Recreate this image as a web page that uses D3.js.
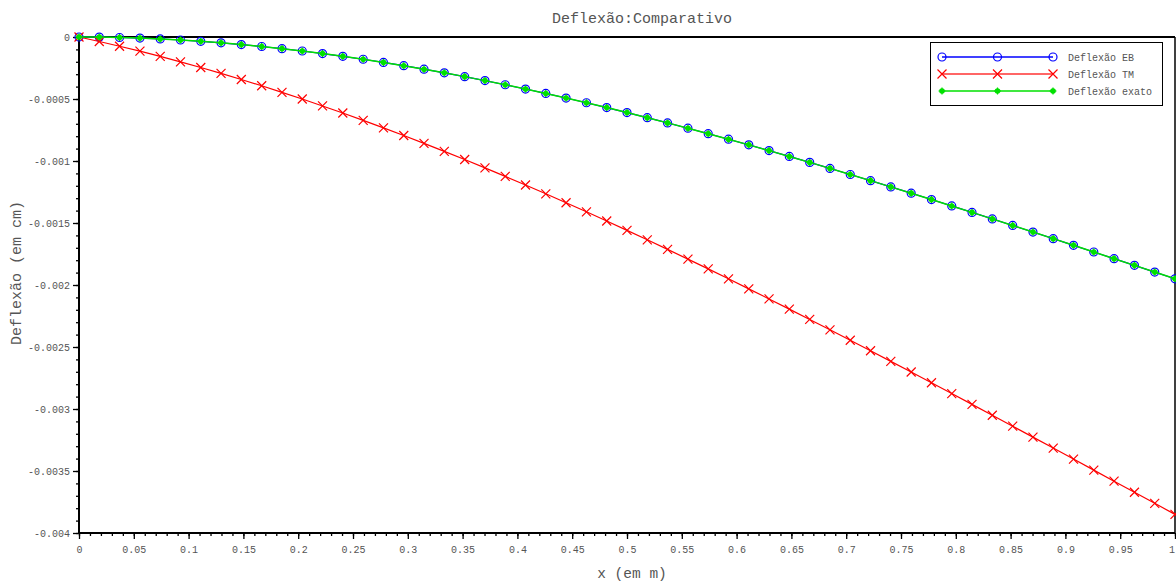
<!DOCTYPE html>
<html>
<head>
<meta charset="utf-8">
<script src="https://cdn.jsdelivr.net/npm/d3@7"></script>
<style>
  html, body { margin: 0; padding: 0; background: #fff; }
  svg { display: block; }
  text { font-family: "Liberation Mono", "DejaVu Sans Mono", monospace; fill: #555; }
</style>
</head>
<body>
<svg id="chart" width="1176" height="581"></svg>
<script>
// Beam position along the span (m)
const xPos = [0, 0.0185, 0.0370, 0.0556, 0.0741, 0.0926, 0.1111, 0.1296, 0.1481, 0.1667,
  0.1852, 0.2037, 0.2222, 0.2407, 0.2593, 0.2778, 0.2963, 0.3148, 0.3333, 0.3519,
  0.3704, 0.3889, 0.4074, 0.4259, 0.4444, 0.4630, 0.4815, 0.5, 0.5185, 0.5370,
  0.5556, 0.5741, 0.5926, 0.6111, 0.6296, 0.6481, 0.6667, 0.6852, 0.7037, 0.7222,
  0.7407, 0.7593, 0.7778, 0.7963, 0.8148, 0.8333, 0.8519, 0.8704, 0.8889, 0.9074,
  0.9259, 0.9444, 0.9630, 0.9815, 1];

// Euler-Bernoulli deflection
const deflEB = [0, -0.0000010, -0.0000040, -0.0000089, -0.0000157, -0.0000243, -0.0000348, -0.0000470, -0.0000610, -0.0000767,
  -0.0000941, -0.0001131, -0.0001337, -0.0001559, -0.0001796, -0.0002048, -0.0002314, -0.0002595, -0.0002889, -0.0003196,
  -0.0003517, -0.0003850, -0.0004196, -0.0004553, -0.0004922, -0.0005302, -0.0005693, -0.0006094, -0.0006505, -0.0006926,
  -0.0007356, -0.0007795, -0.0008243, -0.0008698, -0.0009162, -0.0009633, -0.0010111, -0.0010596, -0.0011087, -0.0011584,
  -0.0012087, -0.0012594, -0.0013107, -0.0013624, -0.0014145, -0.0014670, -0.0015198, -0.0015730, -0.0016263, -0.0016799,
  -0.0017337, -0.0017877, -0.0018417, -0.0018958, -0.0019500];

// Timoshenko deflection
const deflTM = [0, -0.0000362, -0.0000743, -0.0001144, -0.0001564, -0.0002002, -0.0002459, -0.0002933, -0.0003425, -0.0003934,
  -0.0004460, -0.0005002, -0.0005560, -0.0006133, -0.0006722, -0.0007326, -0.0007944, -0.0008576, -0.0009222, -0.0009882,
  -0.0010554, -0.0011239, -0.0011936, -0.0012646, -0.0013366, -0.0014098, -0.0014841, -0.0015594, -0.0016357, -0.0017130,
  -0.0017912, -0.0018702, -0.0019502, -0.0020310, -0.0021125, -0.0021948, -0.0022778, -0.0023614, -0.0024457, -0.0025306,
  -0.0026161, -0.0027020, -0.0027885, -0.0028754, -0.0029627, -0.0030503, -0.0031384, -0.0032267, -0.0033152, -0.0034040,
  -0.0034930, -0.0035821, -0.0036713, -0.0037607, -0.0038500];

// Exact solution
const deflExact = [0, -0.0000010, -0.0000040, -0.0000089, -0.0000157, -0.0000243, -0.0000348, -0.0000470, -0.0000610, -0.0000767,
  -0.0000941, -0.0001131, -0.0001337, -0.0001559, -0.0001796, -0.0002048, -0.0002314, -0.0002595, -0.0002889, -0.0003196,
  -0.0003517, -0.0003850, -0.0004196, -0.0004553, -0.0004922, -0.0005302, -0.0005693, -0.0006094, -0.0006505, -0.0006926,
  -0.0007356, -0.0007795, -0.0008243, -0.0008698, -0.0009162, -0.0009633, -0.0010111, -0.0010596, -0.0011087, -0.0011584,
  -0.0012087, -0.0012594, -0.0013107, -0.0013624, -0.0014145, -0.0014670, -0.0015198, -0.0015730, -0.0016263, -0.0016799,
  -0.0017337, -0.0017877, -0.0018417, -0.0018958, -0.0019500];

const xTicks = [0, 0.05, 0.1, 0.15, 0.2, 0.25, 0.3, 0.35, 0.4, 0.45, 0.5, 0.55, 0.6, 0.65, 0.7, 0.75, 0.8, 0.85, 0.9, 0.95, 1];
const xTickLabels = ["0", "0.05", "0.1", "0.15", "0.2", "0.25", "0.3", "0.35", "0.4", "0.45", "0.5", "0.55", "0.6", "0.65", "0.7", "0.75", "0.8", "0.85", "0.9", "0.95", "1"];
const yTicks = [0, -0.0005, -0.001, -0.0015, -0.002, -0.0025, -0.003, -0.0035, -0.004];
const yTickLabels = ["0", "-0.0005", "-0.001", "-0.0015", "-0.002", "-0.0025", "-0.003", "-0.0035", "-0.004"];

const seriesNames = ["Deflexão EB", "Deflexão TM", "Deflexão exato"];

const svg = d3.select("#chart");
const L = 79, R = 1175, T = 37, B = 533;

const x = d3.scaleLinear().domain([0, 1]).range([L, R]);
const y = d3.scaleLinear().domain([0, -0.004]).range([T, B]);

// Minor ticks
const xMinor = d3.range(0, 101).map(i => i / 100);
const yMinor = d3.range(0, 41).map(i => -i / 10000);

const g = svg.append("g");

// Bottom axis
const xAxis = d3.axisBottom(x).tickValues(xTicks).tickSize(6).tickPadding(7)
  .tickFormat((d, i) => xTickLabels[i]);
const xMin = d3.axisBottom(x).tickValues(xMinor).tickSize(3).tickFormat("");
g.append("g").attr("transform", `translate(0,${B})`).call(xMin)
  .call(s => s.select(".domain").remove());
const xa = g.append("g").attr("transform", `translate(0,${B})`).call(xAxis);
xa.select(".domain").remove();
// keep the last label inside the canvas
xa.selectAll(".tick text").filter((d, i) => i === xTicks.length - 1)
  .attr("text-anchor", "end").attr("dx", "-0.5");

// Left axis
const yAxis = d3.axisLeft(y).tickValues(yTicks).tickSize(6).tickPadding(3)
  .tickFormat((d, i) => yTickLabels[i]);
const yMin = d3.axisLeft(y).tickValues(yMinor).tickSize(3).tickFormat("");
g.append("g").attr("transform", `translate(${L},0)`).call(yMin)
  .call(s => s.select(".domain").remove());
const ya = g.append("g").attr("transform", `translate(${L},0)`).call(yAxis);
ya.select(".domain").remove();

svg.selectAll(".tick line").attr("stroke", "#000").attr("stroke-width", 1.3);
svg.selectAll(".tick text")
  .style("font-family", '"Liberation Mono", monospace')
  .style("font-size", "10px").attr("fill", "#666");

// Frame
g.append("line").attr("x1", L).attr("x2", R).attr("y1", T).attr("y2", T).attr("stroke", "#000").attr("stroke-width", 2);
g.append("line").attr("x1", L).attr("x2", R).attr("y1", B).attr("y2", B).attr("stroke", "#000").attr("stroke-width", 2);
g.append("line").attr("x1", L).attr("x2", L).attr("y1", T).attr("y2", B).attr("stroke", "#000").attr("stroke-width", 2);
g.append("line").attr("x1", R).attr("x2", R).attr("y1", T).attr("y2", B).attr("stroke", "#000").attr("stroke-width", 1.5);

// Data
const plot = svg.append("g");
const line = d3.line().x(d => x(d[0])).y(d => y(d[1]));
const eb = xPos.map((v, i) => [v, deflEB[i]]);
const tm = xPos.map((v, i) => [v, deflTM[i]]);
const ex = xPos.map((v, i) => [v, deflExact[i]]);

function circleMark(sel, cx, cy) {
  sel.append("circle").attr("cx", cx).attr("cy", cy).attr("r", 4)
    .attr("fill", "none").attr("stroke", "#0000ff").attr("stroke-width", 1.2);
}
function crossMark(sel, cx, cy) {
  const s = 4.5;
  sel.append("path").attr("d", `M${cx - s},${cy - s}L${cx + s},${cy + s}M${cx - s},${cy + s}L${cx + s},${cy - s}`)
    .attr("stroke", "#ff0000").attr("stroke-width", 1.2).attr("fill", "none");
}
function starMark(sel, cx, cy) {
  sel.append("circle").attr("cx", cx).attr("cy", cy).attr("r", 2.8).attr("fill", "#00e000").attr("stroke", "none");
  sel.append("path").attr("d", `M${cx - 3.5},${cy}L${cx + 3.5},${cy}M${cx},${cy - 3.5}L${cx},${cy + 3.5}`)
    .attr("stroke", "#00e000").attr("stroke-width", 1.2);
}

svg.append("clipPath").attr("id", "pclip").append("rect")
  .attr("x", L - 6).attr("y", T - 6).attr("width", R - L + 7).attr("height", B - T + 12);
const pg = plot.attr("clip-path", "url(#pclip)");

pg.append("path").datum(eb).attr("d", line).attr("fill", "none").attr("stroke", "#0000ff").attr("stroke-width", 1.2);
eb.forEach(d => circleMark(pg, x(d[0]), y(d[1])));
pg.append("path").datum(tm).attr("d", line).attr("fill", "none").attr("stroke", "#ff0000").attr("stroke-width", 1.2);
tm.forEach(d => crossMark(pg, x(d[0]), y(d[1])));
pg.append("path").datum(ex).attr("d", line).attr("fill", "none").attr("stroke", "#00e000").attr("stroke-width", 1.5);
ex.forEach(d => starMark(pg, x(d[0]), y(d[1])));

// Legend
const lg = svg.append("g");
lg.append("rect").attr("x", 930.5).attr("y", 42.5).attr("width", 232).attr("height", 63)
  .attr("fill", "#fff").attr("stroke", "#000").attr("stroke-width", 1);
const legendColors = ["#0000ff", "#ff0000", "#00e000"];
const legendMarks = [circleMark, crossMark, starMark];
seriesNames.forEach((name, i) => {
  const yy = 57 + i * 17;
  lg.append("line").attr("x1", 942).attr("x2", 1053).attr("y1", yy).attr("y2", yy)
    .attr("stroke", i === 1 ? "#ff6666" : legendColors[i]).attr("stroke-width", i === 1 ? 2 : 1.3);
  [942, 997.5, 1053].forEach(px => legendMarks[i](lg, px, yy));
  lg.append("text").attr("x", 1068).attr("y", yy + 3.5).style("font-size", "10px").text(name);
});

// Titles
svg.append("text").attr("x", 642).attr("y", 23).attr("text-anchor", "middle")
  .style("font-size", "15px").text("Deflexão:Comparativo");
svg.append("text").attr("x", 632).attr("y", 578).attr("text-anchor", "middle")
  .style("font-size", "14.5px").text("x (em m)");
svg.append("text").attr("transform", "translate(21,273) rotate(-90)").attr("text-anchor", "middle")
  .style("font-size", "15px").text("Deflexão (em cm)");
</script>
</body>
</html>
